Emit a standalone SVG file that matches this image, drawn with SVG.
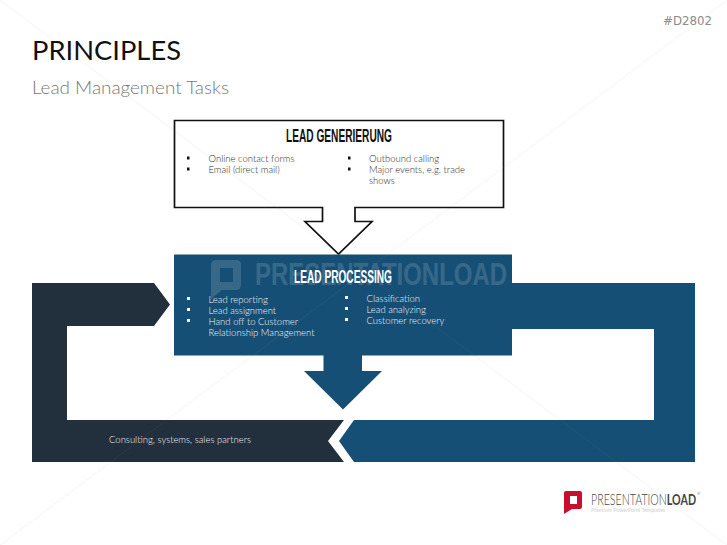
<svg xmlns="http://www.w3.org/2000/svg" width="727" height="545" viewBox="0 0 727 545">
<style>
text{font-family:"Lato","Open Sans","Liberation Sans",sans-serif}
.b{font-size:9.500px;font-weight:300;fill:#2a2a2a}
.w{font-size:9.500px;font-weight:300;fill:#f2f5f7}
.h{font-family:"Liberation Sans",sans-serif;font-weight:700;font-size:18px}
.blue{fill:#164f75}
.dark{fill:#222f3c}
.bl{fill:#111}
.bw{fill:#fff}
</style>
<rect width="727" height="545" fill="#fff"/>
<g id="title">
<text x="32" y="60" font-size="27.500" font-weight="400" fill="#111" textLength="149" lengthAdjust="spacingAndGlyphs">PRINCIPLES</text>
<text x="32" y="94" font-size="18" font-weight="300" fill="#777" textLength="197" lengthAdjust="spacingAndGlyphs">Lead Management Tasks</text>
<text x="663" y="25" style="font-family:'DejaVu Sans',sans-serif" font-size="12" fill="#8c8c8c" textLength="49" lengthAdjust="spacingAndGlyphs">#D2802</text>
</g>
<g id="connectors">
<path id="loop-blue" class="blue" d="M512 283H695V462H354L339 441L354 420H654V329H512Z"/>
<path id="loop-dark" class="dark" d="M32 283H154L170 304.500L154 326H67V420H344L328 441L344 462H32Z"/>
<path id="arrow-down" class="blue" d="M323.500 354H362V371H382L343 409.500L304 371H323.500Z"/>
</g>
<g id="node-generierung">
<path d="M174.500 120.500H503.500V207.500H355V221.500H372L338.500 254L305 221.500H322.500V207.500H174.500Z" fill="#fff" stroke="#111" stroke-width="1.700"/>
<text class="h" x="286" y="141.500" fill="#111" textLength="106" lengthAdjust="spacingAndGlyphs">LEAD GENERIERUNG</text>
<rect class="bl" x="187" y="156.500" width="2.500" height="3"/>
<rect class="bl" x="187" y="167.500" width="2.500" height="3"/>
<text class="b" x="208.500" y="162">Online contact forms</text>
<text class="b" x="208.500" y="173">Email (direct mail)</text>
<rect class="bl" x="348" y="156.500" width="2.500" height="3"/>
<rect class="bl" x="348" y="167.500" width="2.500" height="3"/>
<text class="b" x="369" y="162">Outbound calling</text>
<text class="b" x="369" y="173">Major events, e.g. trade</text>
<text class="b" x="369" y="184">shows</text>
</g>
<g id="node-processing">
<rect class="blue" x="174" y="254.500" width="338" height="101"/>
<g id="watermark" opacity="0.14" fill="#fff">
<path d="M216 260H236Q241 260 241 265V285Q241 290 236 290H222L211 299V265Q211 260 216 260ZM220 268V282H233V268Z" fill-rule="evenodd"/>
<text x="255" y="285" style="font-family:'Liberation Sans',sans-serif;font-weight:700" font-size="32" textLength="252" lengthAdjust="spacingAndGlyphs">PRESENTATIONLOAD</text>
</g>
<text class="h" x="294" y="282.500" fill="#fff" textLength="98" lengthAdjust="spacingAndGlyphs">LEAD PROCESSING</text>
<rect class="bw" x="187" y="297" width="3" height="3"/>
<rect class="bw" x="187" y="308" width="3" height="3"/>
<rect class="bw" x="187" y="319" width="3" height="3"/>
<text class="w" x="208.500" y="303">Lead reporting</text>
<text class="w" x="208.500" y="314">Lead assignment</text>
<text class="w" x="208.500" y="325">Hand off to Customer</text>
<text class="w" x="208.500" y="336">Relationship Management</text>
<rect class="bw" x="345" y="296" width="3" height="3"/>
<rect class="bw" x="345" y="307" width="3" height="3"/>
<rect class="bw" x="345" y="318" width="3" height="3"/>
<text class="w" x="366.500" y="302">Classification</text>
<text class="w" x="366.500" y="313">Lead analyzing</text>
<text class="w" x="366.500" y="324">Customer recovery</text>
</g>
<g id="node-partners">
<text class="w" x="109" y="443">Consulting, systems, sales partners</text>
</g>
<g id="logo">
<path d="M566 491H580Q582 491 582 493V507Q582 509 580 509H572L564 514V493Q564 491 566 491ZM570 496V504H577V496Z" fill="#c8102e" fill-rule="evenodd"/>
<text x="591" y="504.500" font-size="15" font-weight="300" fill="#444" textLength="105" lengthAdjust="spacingAndGlyphs">PRESENTATION<tspan font-weight="700">LOAD</tspan></text>
<text x="697" y="495" font-size="4" fill="#666">®</text>
<text x="591" y="512" font-size="6" fill="#cfcfcf" textLength="74" lengthAdjust="spacingAndGlyphs">Premium PowerPoint Templates</text>
</g>
<g id="sheen" stroke="#8c8c8c" stroke-opacity="0.09" stroke-width="1">
<path d="M0 0L727 545M727 0L0 545"/>
</g>
</svg>
